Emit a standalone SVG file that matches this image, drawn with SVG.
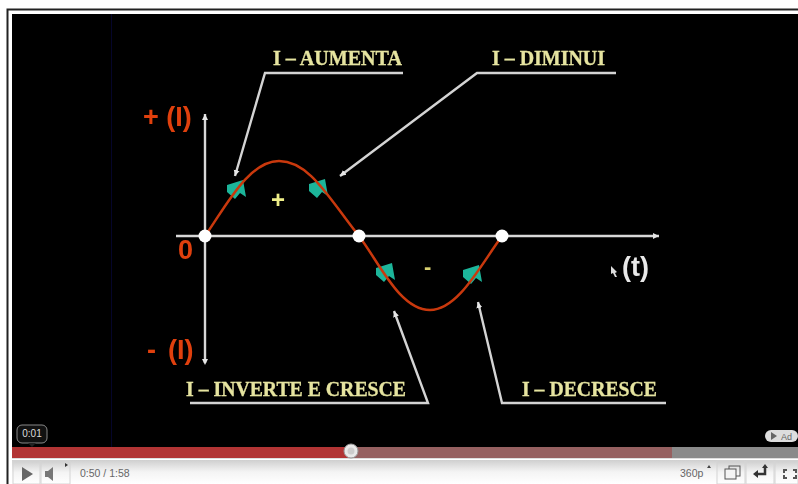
<svg xmlns="http://www.w3.org/2000/svg" width="798" height="484" viewBox="0 0 798 484">
<defs>
<linearGradient id="bar" x1="0" y1="0" x2="0" y2="1"><stop offset="0" stop-color="#cfcfcf"/><stop offset="0.5" stop-color="#f4f4f4"/><stop offset="1" stop-color="#ffffff"/></linearGradient>
<filter id="soft" x="-5%" y="-5%" width="110%" height="110%"><feGaussianBlur stdDeviation="0.55"/></filter>
<marker id="tip" markerUnits="userSpaceOnUse" markerWidth="8" markerHeight="8" refX="6" refY="4" orient="auto"><path d="M0 1L6 4L0 7Z" fill="#e6e6e6"/></marker>
<marker id="tipstart" markerUnits="userSpaceOnUse" markerWidth="8" markerHeight="8" refX="2" refY="4" orient="auto"><path d="M6 1L0 4L6 7Z" fill="#e6e6e6"/></marker>
<path id="teal" d="M-9 -4L7 -9L10 8L4 4L-1 10L-9 3Z" fill="#1db59a"/>
</defs>
<style>
.lead{fill:none;stroke:#d4d4d4;stroke-width:2.4;marker-end:url(#tip)}
.axis{stroke:#d8d8d8;stroke-width:2.4;fill:none}
.lab{font-family:"Liberation Serif",serif;font-weight:bold;font-size:20px;fill:#e6e4a0;stroke:#e6e4a0;stroke-width:.3}
.red{font-family:"Liberation Sans",sans-serif;font-weight:bold;font-size:27px;fill:#e0400f}
.ui{font-family:"Liberation Sans",sans-serif;font-size:10.5px;fill:#666}
.btn{fill:url(#bar);stroke:#d4d4d4;stroke-width:1}
</style>
<rect width="798" height="484" fill="#fff"/>
<path d="M7.5 484V9.5H798" fill="none" stroke="#222" stroke-width="2"/>
<rect x="12" y="14" width="786" height="433" fill="#000"/>
<rect x="111" y="14" width="1" height="433" fill="#05052a"/>
<g filter="url(#soft)">
<g id="connectors">
<path class="axis" d="M205 363V114" marker-end="url(#tip)" marker-start="url(#tipstart)"/>
<path class="axis" d="M176 236H659" marker-end="url(#tip)"/>
<path class="lead" d="M403 73H265L235 176"/>
<path class="lead" d="M616 73H477L340 176"/>
<path class="lead" d="M190 403H428L394 311"/>
<path class="lead" d="M666 403H502L478 302"/>
</g>
<g id="curve">
<use href="#teal" x="236" y="189"/>
<use href="#teal" x="318" y="188"/>
<use href="#teal" x="385" y="272"/>
<use href="#teal" x="472" y="274"/>
<path d="M205 236C225 208 248 161 279 161C310 161 330 200 359 236C380 264 400 310 430 310C458 310 480 266 502 236" fill="none" stroke="#c9390c" stroke-width="2.5"/>
<circle cx="205" cy="236" r="6.5" fill="#fff"/>
<circle cx="359" cy="236" r="6.5" fill="#fff"/>
<circle cx="502" cy="236" r="6.5" fill="#fff"/>
</g>
<g id="label-aumenta"><text class="lab" x="273" y="65" textLength="129" lengthAdjust="spacingAndGlyphs">I – AUMENTA</text></g>
<g id="label-diminui"><text class="lab" x="492" y="65" textLength="113" lengthAdjust="spacingAndGlyphs">I – DIMINUI</text></g>
<g id="label-inverte"><text class="lab" x="186" y="396" textLength="220" lengthAdjust="spacingAndGlyphs">I – INVERTE E CRESCE</text></g>
<g id="label-decresce"><text class="lab" x="522" y="396" textLength="135" lengthAdjust="spacingAndGlyphs">I – DECRESCE</text></g>
<g id="axis-labels">
<text class="red" x="143" y="126">+ (I)</text>
<text class="red" x="147" y="359">- <tspan x="168">(I)</tspan></text>
<text class="red" x="178" y="259">0</text>
<text x="622" y="276" font-family="Liberation Sans,sans-serif" font-weight="bold" font-size="27" fill="#e8e8e8">(t)</text>
<text x="271" y="208" font-family="Liberation Sans,sans-serif" font-weight="bold" font-size="24" fill="#eeee88">+</text>
<text x="424" y="274" font-family="Liberation Sans,sans-serif" font-weight="bold" font-size="22" fill="#d8d070">-</text>
<path d="M611 266L617 272L615 273L617 277L615 277L613 273L611 274Z" fill="#ddd"/>
</g>
</g>
<g id="player">
<rect x="12" y="447" width="786" height="11" fill="#8a8a8a"/>
<rect x="12" y="447" width="660" height="11" fill="#966060"/>
<rect x="12" y="447" width="336" height="11" fill="#b23434"/>
<rect x="12" y="458" width="786" height="1" fill="#ddd"/>
<rect x="12" y="460" width="786" height="24" fill="url(#bar)"/>
<rect x="13" y="461" width="27" height="23" class="btn"/>
<rect x="41" y="461" width="29" height="23" class="btn"/>
<path d="M22 467L33 474L22 481Z" fill="#666"/>
<path d="M45 471H48L53 467V481L48 477H45Z" fill="#777"/>
<path d="M65 463L68 465L65 467Z" fill="#333"/>
<text class="ui" x="80" y="477">0:50 / 1:58</text>
<text class="ui" x="680" y="477">360p</text>
<path d="M707 468L709 465L711 468Z" fill="#444"/>
<rect x="717" y="461" width="28" height="23" class="btn"/>
<rect x="746" y="461" width="28" height="23" class="btn"/>
<rect x="775" y="461" width="23" height="23" class="btn"/>
<rect x="729" y="466" width="11" height="10" fill="none" stroke="#555"/>
<rect x="725" y="469" width="11" height="10" fill="#f4f4f4" stroke="#555"/>
<path d="M765 466V474H757" fill="none" stroke="#333" stroke-width="2.5"/>
<path d="M753 474L758 470V478Z" fill="#333"/>
<path d="M762 468L765 464L768 468Z" fill="#333"/>
<path d="M783 469H787V471H785V473H783ZM797 469H793V471H795V473H797ZM783 479H787V477H785V475H783ZM797 479H793V477H795V475H797Z" fill="#555"/>
<circle cx="351" cy="451" r="7" fill="#e8e8e8" stroke="#999"/>
<circle cx="351" cy="451" r="3.5" fill="#ccc"/>
<rect x="17" y="425" width="30" height="18" rx="5" fill="#111" stroke="#888"/>
<path d="M28 443H36L32 447Z" fill="#222"/>
<text x="32" y="437" text-anchor="middle" font-family="Liberation Sans,sans-serif" font-size="10" fill="#ddd">0:01</text>
<rect x="765" y="430" width="33" height="12" rx="6" fill="#ddd"/>
<path d="M771 432L777 436L771 440Z" fill="#666"/>
<text x="781" y="440" font-family="Liberation Sans,sans-serif" font-size="9" fill="#666">Ad</text>
</g>
</svg>
